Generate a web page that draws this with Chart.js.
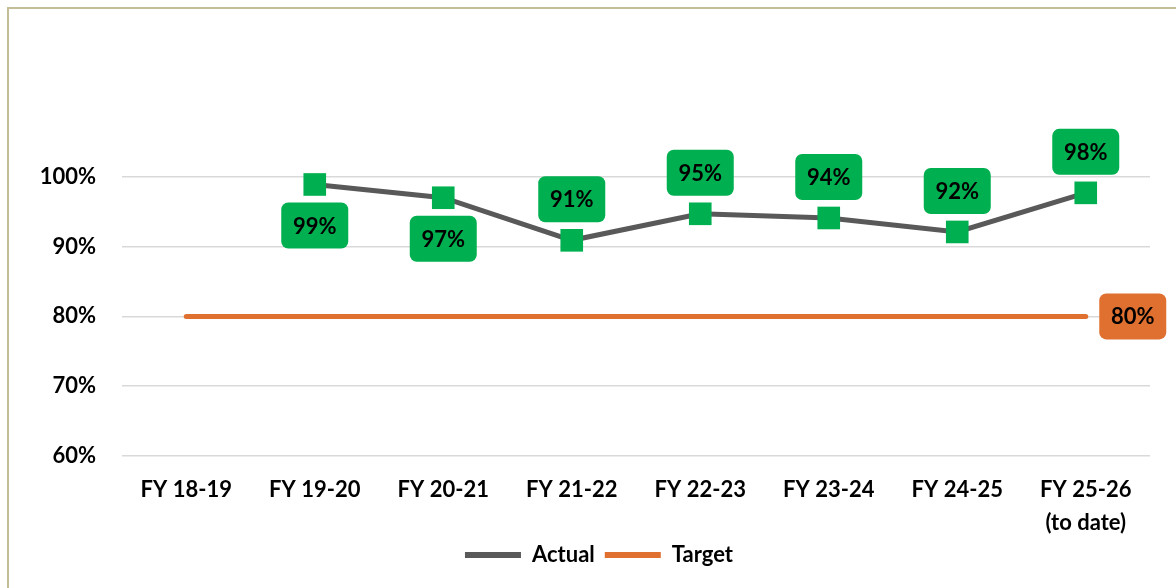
<!DOCTYPE html>
<html><head><meta charset="utf-8">
<script src="https://cdn.jsdelivr.net/npm/chart.js@4.4.1/dist/chart.umd.min.js"></script>
<style>
html,body{margin:0;padding:0;background:#fff;overflow:hidden}
#frame{position:absolute;left:7px;top:7px;width:1200px;height:600px;border-left:2px solid #C4BD97;border-top:2px solid #C4BD97}
#wrap{position:absolute;left:0;top:0;width:1176px;height:588px}
</style></head><body>
<div id="frame"></div>
<div id="wrap"><canvas id="c" width="1176" height="588"></canvas></div>
<script>
const categories = ['FY 18-19','FY 19-20','FY 20-21','FY 21-22','FY 22-23','FY 23-24','FY 24-25',['FY 25-26','(to date)']];
const actualValues = [null, 98.9, 97.0, 90.9, 94.7, 94.1, 92.1, 97.7];
const targetValues = [80, 80, 80, 80, 80, 80, 80, 80];
const yMin = 60, yMax = 110, yStep = 10;

const FONT = 'Lato';
const actualLabelPos = [null,'below','below','above','above','above','above','above'];
const targetLabelPos = [null,null,null,null,null,null,null,'right'];

const boxLabels = {
  id: 'boxLabels',
  afterDatasetsDraw(chart) {
    const ctx = chart.ctx;
    chart.data.datasets.forEach((ds, i) => {
      if (!ds.boxLabel) return;
      const meta = chart.getDatasetMeta(i);
      meta.data.forEach((pt, j) => {
        const v = ds.data[j];
        const pos = ds.boxLabel.pos[j];
        if (v == null || !pos) return;
        let cx = pt.x, cy = pt.y;
        if (pos === 'above') cy -= 41;
        else if (pos === 'below') cy += 41;
        else if (pos === 'right') cx += 47;
        const w = 67, h = 46, r = 7;
        ctx.save();
        ctx.fillStyle = ds.boxLabel.bg;
        ctx.beginPath();
        ctx.roundRect(cx - w/2, cy - h/2, w, h, r);
        ctx.fill();
        ctx.fillStyle = '#000';
        ctx.font = 'bold 22px ' + FONT;
        ctx.textAlign = 'center';
        ctx.textBaseline = 'middle';
        ctx.fillText(Math.round(v) + '%', cx, cy + 1);
        ctx.restore();
      });
    });
  }
};

const legendShift = {
  id: 'legendShift',
  beforeDraw(chart) {
    const lg = chart.legend;
    if (!lg || lg._shifted) return;
    lg.left += 9; lg.right += 9;
    lg.top -= 5; lg.bottom -= 5;
    lg._shifted = true;
  },
  afterUpdate(chart) { if (chart.legend) chart.legend._shifted = false; }
};

new Chart(document.getElementById('c'), {
  type: 'line',
  data: {
    labels: categories,
    datasets: [
      {
        label: 'Actual',
        data: actualValues,
        borderColor: '#595959',
        backgroundColor: '#595959',
        borderWidth: 5,
        pointStyle: 'rect',
        pointRadius: 16,
        pointHoverRadius: 16,
        pointBackgroundColor: '#00B050',
        pointBorderWidth: 0,
        pointBorderColor: '#00B050',
        tension: 0,
        clip: false,
        boxLabel: { pos: actualLabelPos, bg: '#00B050' }
      },
      {
        label: 'Target',
        data: targetValues,
        borderColor: '#E07030',
        backgroundColor: '#E07030',
        borderWidth: 5,
        borderCapStyle: 'round',
        pointRadius: 0,
        pointHoverRadius: 0,
        tension: 0,
        clip: false,
        boxLabel: { pos: targetLabelPos, bg: '#E07030' }
      }
    ]
  },
  options: {
    responsive: false,
    animation: false,
    layout: { padding: { left: 30, right: 26, top: 107, bottom: 7 } },
    scales: {
      x: {
        offset: true,
        grid: { display: false, drawTicks: false },
        border: { display: false },
        ticks: { color: '#000', padding: 17, maxRotation: 0, autoSkip: false,
                 font: { family: FONT, size: 22, weight: 'bold', lineHeight: 1.5 } },
        afterFit(s) { s.height = 83; }
      },
      y: {
        min: yMin, max: yMax,
        border: { display: false },
        grid: { drawTicks: false, lineWidth: 1.5,
                color: c => (c.tick && c.tick.value > 100) ? 'rgba(0,0,0,0)' : '#D9D9D9' },
        ticks: { stepSize: yStep, color: '#000', padding: 26,
                 font: { family: FONT, size: 22, weight: 'bold' },
                 callback: v => v > 100 ? '' : v + '%' },
        afterFit(s) { s.width = 92; }
      }
    },
    plugins: {
      tooltip: { enabled: false },
      legend: {
        position: 'bottom',
        labels: {
          color: '#000',
          boxWidth: 56, boxHeight: 6, padding: 10,
          font: { family: FONT, size: 22, weight: 'bold' },
          generateLabels(chart) {
            return Chart.defaults.plugins.legend.labels.generateLabels(chart).map(l => {
              l.lineWidth = 0; return l;
            });
          }
        }
      }
    }
  },
  plugins: [boxLabels, legendShift]
});
</script>
</body></html>
